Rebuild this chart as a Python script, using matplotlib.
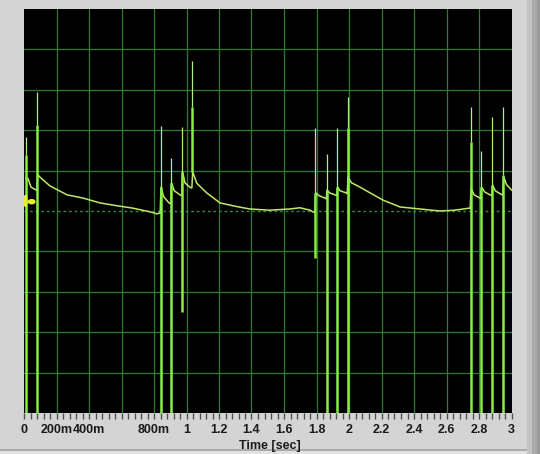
import matplotlib
matplotlib.use("Agg")
import matplotlib.pyplot as plt
from matplotlib.patches import Rectangle, Ellipse
from matplotlib.ticker import MultipleLocator

# --- data (time in s, amplitude in grid divisions) ---
spike_t = [0.010, 0.082, 0.841, 0.906, 0.974, 1.036, 1.793, 1.863, 1.928, 1.992,
           2.749, 2.814, 2.882, 2.950]
spike_peak = [1.83, 2.95, 2.10, 1.31, 2.08, 3.72, 2.05, 1.41, 2.06, 2.82,
              2.58, 1.49, 2.33, 2.58]
spike_body = [1.39, 2.13, 0.59, 0.69, 0.97, 2.57, 0.45, 0.52, 0.59, 2.05,
              1.72, 0.59, 0.64, 0.89]
spike_low = [-5.0, -5.0, -5.0, -5.0, -2.5, 0.97, -1.16, -5.0, -5.0, -5.0,
             -5.0, -5.0, -5.0, -5.0]

trace_t = [0.012, 0.025, 0.043, 0.074, 0.080,
           0.084, 0.098, 0.160, 0.265, 0.363, 0.468, 0.572, 0.671, 0.775, 0.818, 0.838,
           0.843, 0.860, 0.892, 0.903,
           0.908, 0.925, 0.960, 0.971,
           0.976, 0.990, 1.020, 1.033,
           1.038, 1.063, 1.124, 1.206, 1.309, 1.390, 1.510, 1.637, 1.698, 1.760, 1.778, 1.790,
           1.795, 1.815, 1.852, 1.860,
           1.865, 1.880, 1.914, 1.925,
           1.930, 1.945, 1.982, 1.989,
           1.994, 2.015, 2.068, 2.129, 2.209, 2.314, 2.437, 2.560, 2.652, 2.738, 2.746,
           2.751, 2.770, 2.806, 2.811,
           2.816, 2.835, 2.868, 2.879,
           2.884, 2.900, 2.942, 2.947,
           2.952, 2.970, 3.000]
trace_y = [0.82, 0.80, 0.59, 0.52, 0.50,
           0.90, 0.84, 0.62, 0.40, 0.32, 0.20, 0.13, 0.07, -0.02, -0.07, -0.05,
           0.59, 0.35, 0.20, 0.18,
           0.69, 0.50, 0.40, 0.38,
           0.97, 0.70, 0.59, 0.57,
           0.97, 0.69, 0.45, 0.20, 0.11, 0.05, 0.02, 0.05, 0.08, 0.02, -0.02, -0.04,
           0.45, 0.38, 0.32, 0.30,
           0.52, 0.45, 0.40, 0.38,
           0.59, 0.50, 0.45, 0.43,
           0.84, 0.70, 0.59, 0.45, 0.27, 0.10, 0.05, 0.00, 0.02, 0.07, 0.06,
           0.57, 0.40, 0.32, 0.31,
           0.59, 0.47, 0.40, 0.38,
           0.64, 0.50, 0.40, 0.39,
           0.84, 0.65, 0.52]

tick_pos = [0.0, 0.2, 0.4, 0.6, 0.8, 1.0, 1.2, 1.4, 1.6, 1.8, 2.0, 2.2, 2.4, 2.6, 2.8, 3.0]
tick_txt = ["0", "200m", "400m", "", "800m", "1", "1.2", "1.4", "1.6", "1.8",
            "2", "2.2", "2.4", "2.6", "2.8", "3"]
cursor_t = [0.009, 0.047]
cursor_y = [0.25, 0.23]

W, H = 540, 454
fig = plt.figure(figsize=(W / 100, H / 100), dpi=100, facecolor="#d4d4d4")


def px_rect(x0, y0, x1, y1, color):
    fig.add_artist(Rectangle((x0 / W, (H - y1) / H), (x1 - x0) / W, (y1 - y0) / H,
                             transform=fig.transFigure, color=color, lw=0, zorder=0))


# window frame bits (right strip, bottom edge)
px_rect(527, 0, 532, H, "#c2c2c2")
px_rect(532, 0, 537, H, "#a9a9a9")
px_rect(537, 0, 540, H, "#9a9a9a")
px_rect(0, 449, 527, 451, "#ababab")
px_rect(0, 451, 527, H, "#e2e2e2")

ax = fig.add_axes([24 / W, (H - 413) / H, 487.5 / W, 404 / H])
ax.set_facecolor("black")
ax.set_xlim(0, 3)
ax.set_ylim(-5, 5)
for s in ax.spines.values():
    s.set_visible(False)

grid_c = "#2e7a2e"
for t in tick_pos[1:-1]:
    ax.axvline(t, color=grid_c, lw=0.9, zorder=1)
for y in [-4, -3, -2, -1, 1, 2, 3, 4]:
    ax.axhline(y, color=grid_c, lw=0.9, zorder=1)
ax.axhline(0, color="#2a8a40", lw=1.0, ls=(0, (2, 2)), zorder=1)

# signal: slow trace + spikes
ax.plot(trace_t, trace_y, color="#bfe86a", lw=1.1, zorder=3)
ax.vlines(spike_t, spike_body, spike_peak, color="#b0f078", lw=0.9, zorder=4)
ax.vlines(spike_t, spike_low, spike_body, color="#86f043", lw=1.8, zorder=4)

ax.add_patch(Ellipse((cursor_t[0], cursor_y[0]), 0.018, 0.27, color="#e8f030", zorder=5))
ax.add_patch(Ellipse((cursor_t[1], cursor_y[1]), 0.040, 0.10, color="#e8f030", zorder=5))

ax.set_yticks([])
ax.set_xticks(tick_pos)
ax.set_xticklabels(tick_txt, fontfamily="Liberation Sans", fontweight="bold", fontsize=9)
ax.xaxis.set_minor_locator(MultipleLocator(0.04))
ax.tick_params(axis="x", which="both", direction="out", length=4, width=1,
               color="#505050", pad=4, labelcolor="#1a1a1a")

fig.text(270 / W, (H - 446) / H, "Time [sec]", ha="center", va="center",
         fontfamily="Liberation Sans", fontweight="bold", fontsize=9, color="#1a1a1a")

fig.savefig("out.png", dpi=100, facecolor=fig.get_facecolor())
